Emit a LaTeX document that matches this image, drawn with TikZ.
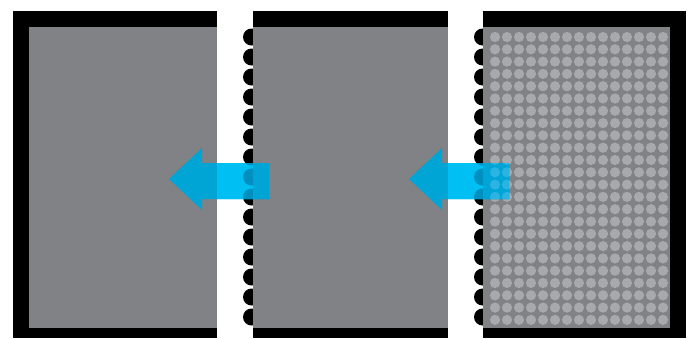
\documentclass[tikz,border=0pt]{standalone}
\definecolor{panelgray}{HTML}{808285}
\definecolor{dotgray}{HTML}{A7A9AC}
\definecolor{arrW}{HTML}{00BFF3}
\definecolor{arrG}{HTML}{00A5D6}
\definecolor{arrB}{HTML}{0090C0}
\definecolor{arrD}{HTML}{2BB3E2}
\tikzset{
  frame/.style={fill=black},
  panel/.style={fill=panelgray},
  bump/.style={fill=black},
  dot/.style={fill=dotgray},
  arrowshape/.style={insert path={(0,179) -- (33,148) -- (33,163) -- (100,163) -- (100,199) -- (33,199) -- (33,210) -- cycle}}
}
\begin{document}
\begin{tikzpicture}[x=1pt,y=-1pt]
\useasboundingbox (0,0) rectangle (694,338);
\fill[white] (0,0) rectangle (694,338);
% panel 1
\fill[frame] (13,11) rectangle (217,338);
\fill[panel] (29,27) rectangle (217,328);
% panel 2
\foreach \k in {0,...,14} \fill[bump] (251.5,37+20*\k) circle[radius=8.5];
\fill[frame] (253,11) rectangle (448,338);
\fill[panel] (253,27) rectangle (448,328);
% panel 3
\foreach \k in {0,...,14} \fill[bump] (482.5,37+20*\k) circle[radius=8.5];
\fill[frame] (483,11) rectangle (686,338);
\fill[panel] (483,27) rectangle (670,328);
\foreach \i in {0,...,14} \foreach \j in {0,...,23} \fill[dot] (495+12*\i,37+12.3*\j) circle[radius=5.1];
% arrow 1
\begin{scope}
\clip[xshift=169pt,arrowshape];
\fill[arrG] (150,140) rectangle (280,220);
\fill[arrW] (217,140) rectangle (253,220);
\foreach \k in {6,...,8} \fill[arrB] (251.5,37+20*\k) circle[radius=8.5];
\fill[arrG] (253,140) rectangle (280,220);
\end{scope}
% arrow 2
\begin{scope}
\clip[xshift=409pt,arrowshape];
\fill[arrG] (390,140) rectangle (520,220);
\fill[arrW] (448,140) rectangle (483,220);
\foreach \k in {6,...,8} \fill[arrB] (482.5,37+20*\k) circle[radius=8.5];
\fill[arrG] (483,140) rectangle (520,220);
\foreach \i in {0,1} \foreach \j in {9,...,14} \fill[arrD] (495+12*\i,37+12.3*\j) circle[radius=5.1];
\end{scope}
\end{tikzpicture}
\end{document}
